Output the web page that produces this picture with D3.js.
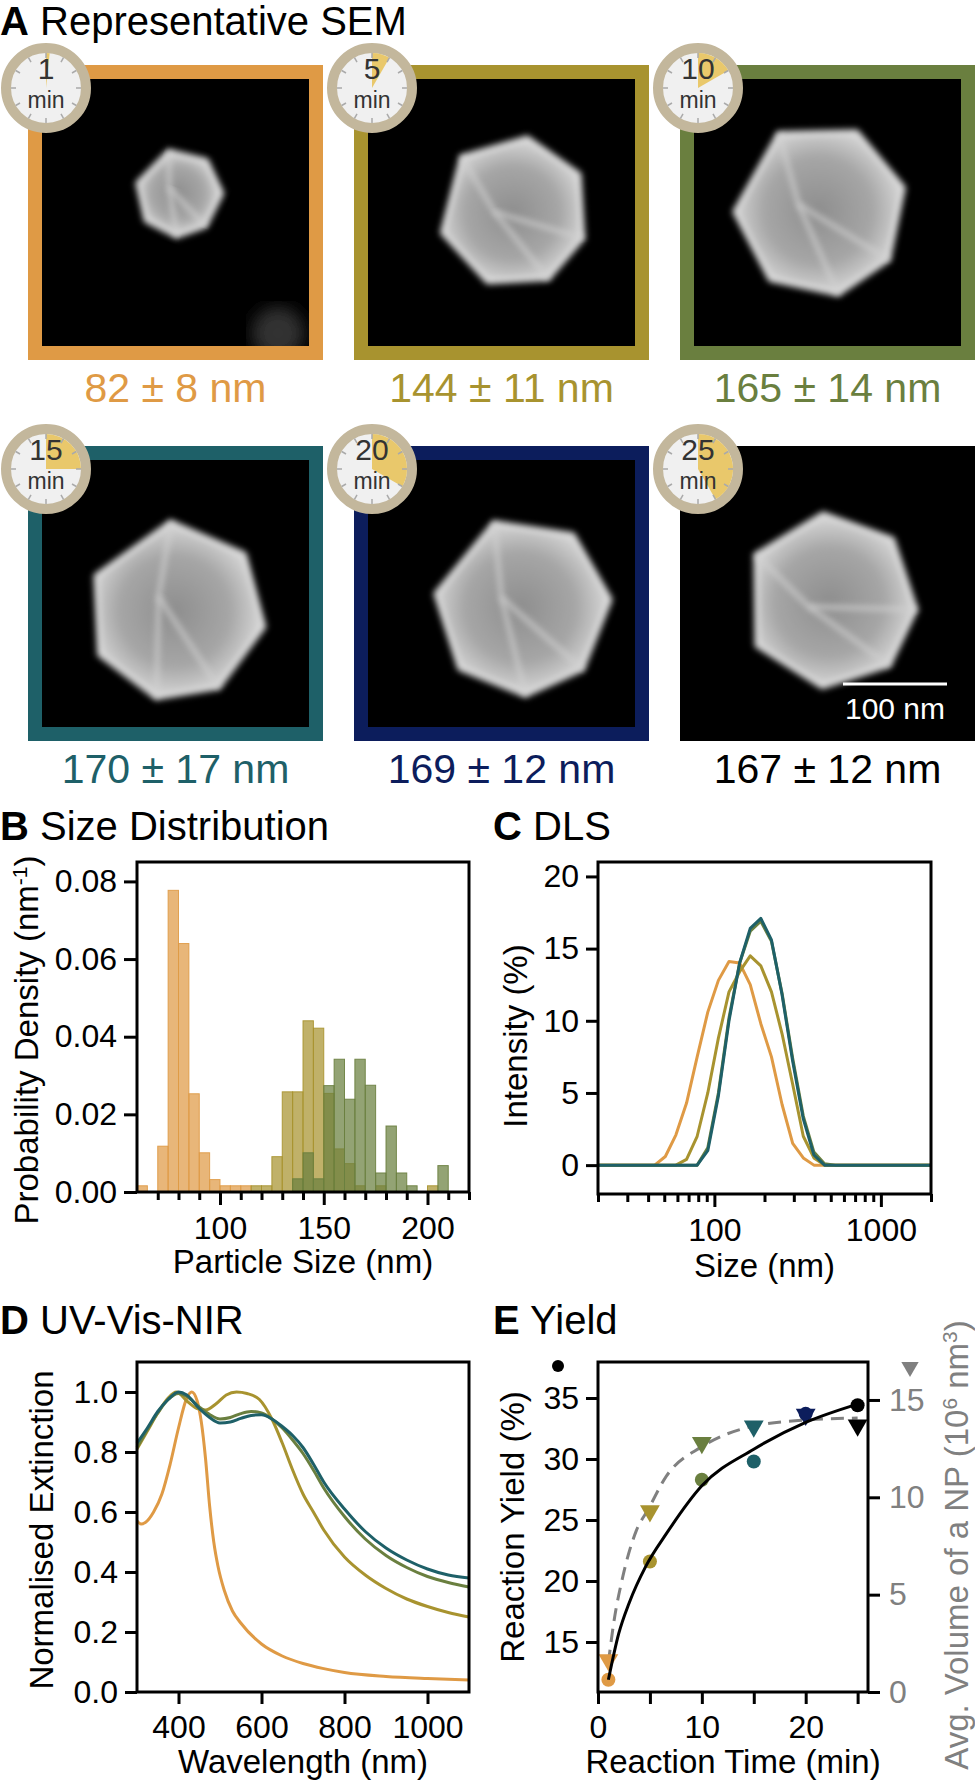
<!DOCTYPE html>
<meta charset="utf-8">
<head>
    <title>Nanoparticle growth over reaction time</title>
    <style>
    body { margin: 0; background: #fff; }
    svg text { font-family: "Liberation Sans", Arial, Helvetica, sans-serif; }
    </style>
</head>
<body>
<svg id="fig" width="975" height="1783"></svg>
<script src="https://cdn.jsdelivr.net/npm/d3@7/dist/d3.min.js"></script>
<script>
    // ---------------- data ----------------
    // A: SEM sizes per reaction time
    var semTimes = [1, 5, 10, 15, 20, 25];
    var semMean = [82, 144, 165, 170, 169, 167];
    var semSd = [8, 11, 14, 17, 12, 12];
    var timeColors = ["#df9a45", "#a8932f", "#6a7f3f", "#1e6068", "#0c1d5c", "#000000"];

    // B: histogram, 5 nm bins (bin start, density)
    var orangeBins = [60, 70, 75, 80, 85, 90, 95, 100, 105, 110];
    var orangeDens = [0.0016, 0.0118, 0.0777, 0.0640, 0.0253, 0.0101, 0.0032, 0.0016, 0.0016, 0.0016];
    var oliveBins = [115, 120, 125, 130, 135, 140, 145, 150, 155, 160, 165, 175, 200];
    var oliveDens = [0.0016, 0.0016, 0.0091, 0.0258, 0.0258, 0.0441, 0.0422, 0.0254, 0.0111, 0.0073, 0.0016, 0.0016, 0.0016];
    var greenBins = [135, 140, 145, 150, 155, 160, 165, 170, 175, 180, 185, 190, 205];
    var greenDens = [0.0034, 0.0101, 0.0034, 0.0274, 0.0342, 0.0239, 0.0342, 0.0275, 0.0049, 0.0170, 0.0049, 0.0016, 0.0068];
    var binWidth = 5;

    // C: DLS intensity vs size
    var dlsSize = [20, 43.82, 50.75, 58.77, 68.06, 78.82, 91.28, 105.7, 122.4, 141.8, 164.2, 190.1, 220.2, 255.0, 295.3, 342.0, 396.1, 458.7, 531.2, 2000];
    var dlsOrange = [0, 0, 0.6, 2.1, 4.3, 7.5, 10.6, 12.8, 14.1, 14.0, 12.5, 9.8, 7.5, 4.2, 1.5, 0.5, 0, 0, 0, 0];
    var dlsOlive  = [0, 0, 0, 0, 0.4, 2.0, 5.0, 8.8, 12.0, 13.4, 14.5, 13.8, 12.0, 9.1, 5.6, 2.0, 0.5, 0, 0, 0];
    var dlsGreen  = [0, 0, 0, 0, 0, 0, 1.2, 5.0, 10.2, 14.0, 16.2, 16.9, 15.5, 11.9, 7.4, 3.4, 0.9, 0.1, 0, 0];
    var dlsTeal   = [0, 0, 0, 0, 0, 0, 1.0, 4.8, 10.0, 14.0, 16.4, 17.1, 15.6, 11.8, 7.2, 3.2, 0.7, 0, 0, 0];

    // D: UV-Vis-NIR normalised extinction
    var uvOrangeWl = [300, 310, 320, 340, 360, 380, 400, 420, 432, 445, 455, 465, 475, 485, 495, 510, 530, 550, 600, 650, 700, 750, 800, 900, 1000, 1100];
    var uvOrange   = [0.57, 0.56, 0.565, 0.6, 0.66, 0.76, 0.88, 0.98, 1.0, 0.97, 0.9, 0.78, 0.62, 0.5, 0.42, 0.34, 0.27, 0.23, 0.16, 0.12, 0.095, 0.078, 0.065, 0.052, 0.045, 0.04];
    var uvOliveWl = [300, 325, 350, 375, 395, 420, 445, 465, 490, 515, 540, 565, 595, 625, 650, 675, 700, 725, 750, 800, 850, 900, 950, 1000, 1050, 1100];
    var uvOlive   = [0.81, 0.87, 0.93, 0.98, 1.0, 0.97, 0.945, 0.94, 0.96, 0.99, 1.0, 0.995, 0.975, 0.91, 0.83, 0.74, 0.66, 0.6, 0.54, 0.45, 0.39, 0.345, 0.31, 0.285, 0.265, 0.25];
    var uvWl      = [300, 325, 350, 375, 400, 420, 450, 475, 500, 525, 550, 575, 600, 625, 650, 675, 700, 725, 750, 800, 850, 900, 950, 1000, 1050, 1100];
    var uvGreen   = [0.815, 0.875, 0.93, 0.975, 0.995, 0.985, 0.95, 0.925, 0.91, 0.915, 0.928, 0.935, 0.93, 0.91, 0.88, 0.84, 0.795, 0.74, 0.68, 0.585, 0.51, 0.455, 0.415, 0.385, 0.365, 0.35];
    var uvTeal    = [0.83, 0.88, 0.935, 0.975, 1.0, 0.99, 0.945, 0.915, 0.897, 0.9, 0.912, 0.922, 0.924, 0.91, 0.885, 0.855, 0.815, 0.76, 0.7, 0.61, 0.535, 0.48, 0.44, 0.41, 0.39, 0.38];

    // E: yield and volume
    var eTime = [1, 5, 10, 15, 20, 25];
    var eYield = [11.9, 21.6, 28.3, 29.8, 33.7, 34.4];
    var eVolume = [1.65, 9.3, 12.8, 13.65, 14.25, 13.7];
    var yieldFitT = [1, 2, 3, 4.6, 6.6, 10, 15, 20, 25];
    var yieldFitV = [11.9, 15.7, 18.2, 21.2, 23.9, 27.8, 30.8, 33.0, 34.5];
    var volFitT = [1, 1.5, 2.4, 3.7, 4.8, 6.6, 10, 15, 20, 25];
    var volFitV = [1.5, 3.5, 5.95, 8.3, 9.35, 11.1, 12.6, 13.66, 13.97, 14.07];

    // ---------------- layout ----------------
    var svg = d3.select("#fig");
    var FONT = '"Liberation Sans", Arial, Helvetica, sans-serif';
    var TICK_FS = 32, LABEL_FS = 33, TITLE_FS = 40;

    function title(x, y, letter, rest) {
        var t = svg.append("text").attr("x", x).attr("y", y).attr("font-size", TITLE_FS);
        t.append("tspan").attr("font-weight", "bold").text(letter);
        t.append("tspan").text(" " + rest);
    }

    function styleAxis(g, color) {
        g.attr("font-family", FONT);
        g.select(".domain").remove();
        g.selectAll(".tick line").attr("stroke", "#000").attr("stroke-width", 3);
        g.selectAll(".tick text").attr("font-size", TICK_FS).attr("fill", color || "#000");
    }

    function frame(x, y) {
        svg.append("rect")
            .attr("x", x.range()[0]).attr("y", y.range()[1])
            .attr("width", x.range()[1] - x.range()[0])
            .attr("height", y.range()[0] - y.range()[1])
            .attr("fill", "none").attr("stroke", "#000").attr("stroke-width", 3);
    }

    function vLabel(x, y, parts, color) {
        var t = svg.append("text")
            .attr("transform", "translate(" + x + "," + y + ") rotate(-90)")
            .attr("text-anchor", "middle").attr("font-size", LABEL_FS)
            .attr("fill", color || "#000");
        parts.forEach(function(p) {
            var s = t.append("tspan").text(p[0]);
            if (p[1]) s.attr("baseline-shift", "super").attr("font-size", 21);
        });
    }

    function hLabel(x, y, txt) {
        svg.append("text").attr("x", x).attr("y", y).attr("text-anchor", "middle")
            .attr("font-size", LABEL_FS).text(txt);
    }

    // ---------------- A: SEM panels ----------------
    title(0, 35, "A", "Representative SEM");

    var panelX = [28, 354, 680], panelY = [65, 446], panelSize = 295, border = 14;
    var nmPx = d3.scaleLinear().domain([0, 100]).range([0, 104]);
    var particleShift = [[3, -19], [12, 0], [-8, -2], [0, 18], [20, 14], [3, 8]];
    var particleTurn = [20, -10, 5, 30, 15, -25];
    var shape = [[-0.55, -0.85], [0.35, -0.95], [0.95, -0.35], [0.85, 0.5], [0.3, 0.95], [-0.5, 0.85], [-0.98, 0.1]];
    var facets = [[[-0.55, -0.85], [-0.25, -0.05], [0.3, 0.95]], [[-0.25, -0.05], [0.85, 0.5]]];

    var defs = svg.append("defs");
    defs.append("filter").attr("id", "blur").append("feGaussianBlur").attr("stdDeviation", 3);
    defs.append("filter").attr("id", "blurBig").append("feGaussianBlur").attr("stdDeviation", 8);
    var grad = defs.append("radialGradient").attr("id", "np");
    grad.append("stop").attr("offset", "0%").attr("stop-color", "#8e8e8e");
    grad.append("stop").attr("offset", "65%").attr("stop-color", "#a6a6a6");
    grad.append("stop").attr("offset", "100%").attr("stop-color", "#d2d2d2");

    var arc = d3.arc().innerRadius(0).outerRadius(35);

    semTimes.forEach(function(t, i) {
        var x0 = panelX[i % 3], y0 = panelY[Math.floor(i / 3)];
        var g = svg.append("g").attr("transform", "translate(" + x0 + "," + y0 + ")");
        var inset = i < 5 ? border : 0;
        if (i < 5) g.append("rect").attr("width", panelSize).attr("height", panelSize).attr("fill", timeColors[i]);
        g.append("rect").attr("x", inset).attr("y", inset)
            .attr("width", panelSize - 2 * inset).attr("height", panelSize - 2 * inset).attr("fill", "#000");

        // faint out-of-focus particle in the first image
        if (i === 0) {
            defs.append("clipPath").attr("id", "clip0").append("rect")
                .attr("x", inset).attr("y", inset).attr("width", panelSize - 2 * inset).attr("height", panelSize - 2 * inset);
            g.append("circle").attr("clip-path", "url(#clip0)").attr("cx", 250).attr("cy", 268).attr("r", 26)
                .attr("fill", "#333").attr("filter", "url(#blurBig)");
        }

        // particle, scaled by its mean size
        var r = nmPx(semMean[i]) / 2;
        var p = g.append("g").attr("transform", "translate(" + (panelSize / 2 + particleShift[i][0]) + "," +
            (panelSize / 2 + particleShift[i][1]) + ") rotate(" + particleTurn[i] + ")");
        var pts = shape.map(function(d) { return [d[0] * r, d[1] * r]; });
        p.append("path").attr("d", d3.line().curve(d3.curveLinearClosed)(pts))
            .attr("fill", "url(#np)").attr("stroke", "#e2e2e2").attr("stroke-width", 5)
            .attr("stroke-linejoin", "round").attr("filter", "url(#blur)");
        facets.forEach(function(f) {
            p.append("path").attr("d", d3.line()(f.map(function(d) { return [d[0] * r, d[1] * r]; })))
                .attr("fill", "none").attr("stroke", "#d0d0d0").attr("stroke-width", 3.5).attr("filter", "url(#blur)");
        });

        if (i === 5) {
            g.append("line").attr("x1", 163).attr("x2", 163 + nmPx(100)).attr("y1", 238).attr("y2", 238)
                .attr("stroke", "#fff").attr("stroke-width", 3);
            g.append("text").attr("x", 163 + nmPx(100) / 2).attr("y", 273).attr("text-anchor", "middle")
                .attr("fill", "#fff").attr("font-size", 30).text("100 nm");
        }

        // size label
        svg.append("text").attr("x", x0 + panelSize / 2).attr("y", y0 + panelSize + 42)
            .attr("text-anchor", "middle").attr("font-size", 41).attr("fill", timeColors[i])
            .text(semMean[i] + " \u00b1 " + semSd[i] + " nm");

        // clock badge
        var c = svg.append("g").attr("transform", "translate(" + (x0 + 18) + "," + (y0 + 23) + ")");
        c.append("circle").attr("r", 40).attr("fill", "#f0f0f0").attr("stroke", "#c3b79c").attr("stroke-width", 10);
        c.append("path").attr("d", arc({ startAngle: 0, endAngle: t / 60 * 2 * Math.PI })).attr("fill", "#e9c86b");
        d3.range(12).forEach(function(k) {
            var a = k / 12 * 2 * Math.PI;
            c.append("line").attr("x1", 30 * Math.sin(a)).attr("y1", -30 * Math.cos(a))
                .attr("x2", 35 * Math.sin(a)).attr("y2", -35 * Math.cos(a))
                .attr("stroke", "#aaa").attr("stroke-width", 1.5);
        });
        c.append("text").attr("y", -9).attr("text-anchor", "middle").attr("font-size", 30).attr("fill", "#333").text(t);
        c.append("text").attr("y", 20).attr("text-anchor", "middle").attr("font-size", 23).attr("fill", "#333").text("min");
    });

    // ---------------- B: size distribution ----------------
    title(0, 840, "B", "Size Distribution");
    var bX = d3.scaleLinear().domain([60, 220]).range([137, 469]);
    var bY = d3.scaleLinear().domain([0, 0.085]).range([1192, 862]);

    [[orangeBins, orangeDens, timeColors[0]], [oliveBins, oliveDens, timeColors[1]], [greenBins, greenDens, timeColors[2]]]
        .forEach(function(s) {
            svg.append("g").selectAll("rect").data(s[0]).enter().append("rect")
                .attr("x", function(d) { return bX(d); })
                .attr("width", function(d) { return bX(d + binWidth) - bX(d); })
                .attr("y", function(d, j) { return bY(s[1][j]); })
                .attr("height", function(d, j) { return bY(0) - bY(s[1][j]); })
                .attr("fill", s[2]).attr("fill-opacity", 0.72)
                .attr("stroke", s[2]).attr("stroke-opacity", 0.9).attr("stroke-width", 1);
        });

    var bMajor = [100, 150, 200];
    styleAxis(svg.append("g").attr("transform", "translate(0," + bY.range()[0] + ")")
        .call(d3.axisBottom(bX).tickValues(d3.range(70, 221, 10).filter(function(d) { return bMajor.indexOf(d) < 0; }))
            .tickSize(8).tickFormat("")));
    styleAxis(svg.append("g").attr("transform", "translate(0," + bY.range()[0] + ")")
        .call(d3.axisBottom(bX).tickValues(bMajor).tickSize(13).tickPadding(11)));
    styleAxis(svg.append("g").attr("transform", "translate(" + bX.range()[0] + ",0)")
        .call(d3.axisLeft(bY).tickValues([0, 0.02, 0.04, 0.06, 0.08]).tickFormat(d3.format(".2f")).tickSize(13).tickPadding(7)));
    frame(bX, bY);
    vLabel(38, 1040, [["Probability Density (nm"], ["-1", true], [")"]]);
    hLabel((bX.range()[0] + bX.range()[1]) / 2, 1273, "Particle Size (nm)");

    // ---------------- C: DLS ----------------
    title(493, 840, "C", "DLS");
    var cX = d3.scaleLog().domain([20, 2000]).range([598, 931]);
    var cY = d3.scaleLinear().domain([-2, 21]).range([1194, 862]);
    var dlsLine = d3.line().x(function(d, j) { return cX(dlsSize[j]); }).y(function(d) { return cY(d); });
    [[dlsOrange, timeColors[0]], [dlsOlive, timeColors[1]], [dlsGreen, timeColors[2]], [dlsTeal, timeColors[3]]]
        .forEach(function(s) {
            svg.append("path").attr("d", dlsLine(s[0])).attr("fill", "none")
                .attr("stroke", s[1]).attr("stroke-width", 3).attr("stroke-linejoin", "round");
        });
    var cMinor = d3.range(20, 100, 10).concat(d3.range(200, 1000, 100)).concat([2000]);
    styleAxis(svg.append("g").attr("transform", "translate(0," + cY.range()[0] + ")")
        .call(d3.axisBottom(cX).tickValues(cMinor).tickSize(8).tickFormat("")));
    styleAxis(svg.append("g").attr("transform", "translate(0," + cY.range()[0] + ")")
        .call(d3.axisBottom(cX).tickValues([100, 1000]).tickSize(13).tickPadding(11).tickFormat(d3.format("d"))));
    styleAxis(svg.append("g").attr("transform", "translate(" + cX.range()[0] + ",0)")
        .call(d3.axisLeft(cY).tickValues([0, 5, 10, 15, 20]).tickSize(12).tickPadding(7)));
    frame(cX, cY);
    vLabel(527, 1036, [["Intensity (%)"]]);
    hLabel((cX.range()[0] + cX.range()[1]) / 2, 1277, "Size (nm)");

    // ---------------- D: UV-Vis-NIR ----------------
    title(0, 1334, "D", "UV-Vis-NIR");
    var dX = d3.scaleLinear().domain([300, 1100]).range([137, 469]);
    var dY = d3.scaleLinear().domain([0, 1.1]).range([1692, 1362]);
    function uvLine(wl) {
        return d3.line().curve(d3.curveMonotoneX)
            .x(function(d, j) { return dX(wl[j]); }).y(function(d) { return dY(d); });
    }
    [[uvOrangeWl, uvOrange, timeColors[0]], [uvOliveWl, uvOlive, timeColors[1]], [uvWl, uvGreen, timeColors[2]], [uvWl, uvTeal, timeColors[3]]]
        .forEach(function(s) {
            svg.append("path").attr("d", uvLine(s[0])(s[1])).attr("fill", "none")
                .attr("stroke", s[2]).attr("stroke-width", 3);
        });
    styleAxis(svg.append("g").attr("transform", "translate(0," + dY.range()[0] + ")")
        .call(d3.axisBottom(dX).tickValues([400, 600, 800, 1000]).tickFormat(d3.format("d")).tickSize(12).tickPadding(11)));
    styleAxis(svg.append("g").attr("transform", "translate(" + dX.range()[0] + ",0)")
        .call(d3.axisLeft(dY).tickValues([0, 0.2, 0.4, 0.6, 0.8, 1.0]).tickFormat(d3.format(".1f")).tickSize(12).tickPadding(7)));
    frame(dX, dY);
    vLabel(53, 1530, [["Normalised Extinction"]]);
    hLabel((dX.range()[0] + dX.range()[1]) / 2, 1773, "Wavelength (nm)");

    // ---------------- E: yield ----------------
    title(493, 1334, "E", "Yield");
    var eX = d3.scaleLinear().domain([0, 26]).range([598, 868]);
    var eYl = d3.scaleLinear().domain([10.9, 37.95]).range([1692, 1362]);
    var eYr = d3.scaleLinear().domain([0, 16.95]).range([1692, 1362]);

    svg.append("path")
        .attr("d", d3.line().curve(d3.curveMonotoneX).x(function(d, j) { return eX(volFitT[j]); }).y(function(d) { return eYr(d); })(volFitV))
        .attr("fill", "none").attr("stroke", "#808080").attr("stroke-width", 3).attr("stroke-dasharray", "13,8");
    var tri = d3.symbol().type(d3.symbolTriangle).size(170);
    svg.append("g").selectAll("path").data(eTime).enter().append("path")
        .attr("d", tri)
        .attr("transform", function(d, j) { return "translate(" + eX(d) + "," + eYr(eVolume[j]) + ") rotate(180)"; })
        .attr("fill", function(d, j) { return timeColors[j]; });
    svg.append("g").selectAll("circle").data(eTime).enter().append("circle")
        .attr("cx", function(d) { return eX(d); })
        .attr("cy", function(d, j) { return eYl(eYield[j]); })
        .attr("r", 7)
        .attr("fill", function(d, j) { return timeColors[j]; });
    svg.append("path")
        .attr("d", d3.line().curve(d3.curveMonotoneX).x(function(d, j) { return eX(yieldFitT[j]); }).y(function(d) { return eYl(d); })(yieldFitV))
        .attr("fill", "none").attr("stroke", "#000").attr("stroke-width", 3);

    styleAxis(svg.append("g").attr("transform", "translate(0," + eYl.range()[0] + ")")
        .call(d3.axisBottom(eX).tickValues([0, 5, 10, 15, 20, 25]).tickSize(12).tickPadding(11)
            .tickFormat(function(d) { return d % 10 === 0 ? d : ""; })));
    styleAxis(svg.append("g").attr("transform", "translate(" + eX.range()[0] + ",0)")
        .call(d3.axisLeft(eYl).tickValues([15, 20, 25, 30, 35]).tickSize(12).tickPadding(7)));
    styleAxis(svg.append("g").attr("transform", "translate(" + eX.range()[1] + ",0)")
        .call(d3.axisRight(eYr).tickValues([0, 5, 10, 15]).tickSize(12).tickPadding(9)), "#808080");
    frame(eX, eYl);

    // series markers next to the axes
    svg.append("circle").attr("cx", eX.range()[0] - 40).attr("cy", eYl.range()[1] + 4).attr("r", 6).attr("fill", "#000");
    svg.append("path").attr("d", d3.symbol().type(d3.symbolTriangle).size(130))
        .attr("transform", "translate(" + (eX.range()[1] + 42) + "," + (eYl.range()[1] + 5) + ") rotate(180)")
        .attr("fill", "#808080");

    vLabel(524, 1527, [["Reaction Yield (%)"]]);
    vLabel(968, 1545, [["Avg. Volume of a NP (10"], ["6", true], [" nm"], ["3", true], [")"]], "#808080");
    hLabel((eX.range()[0] + eX.range()[1]) / 2, 1773, "Reaction Time (min)");
</script>
</body>
